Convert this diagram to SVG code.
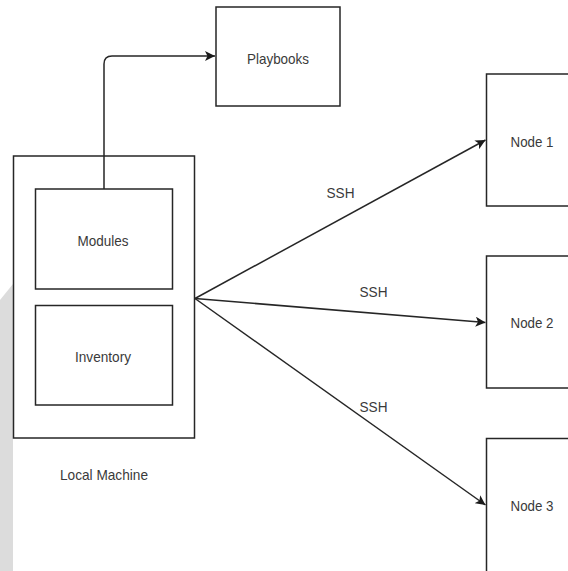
<svg xmlns="http://www.w3.org/2000/svg" width="568" height="571" viewBox="0 0 568 571">
<defs>
<style>
.box{fill:#ffffff;stroke:#262626;stroke-width:1.5}
.lbl{font-family:"Liberation Sans",Arial,sans-serif;font-size:15px;fill:#3a3a3a;text-anchor:middle;dominant-baseline:central}
.edge{fill:none;stroke:#262626;stroke-width:1.5}
</style>
<marker id="arr" viewBox="0 0 10 10" refX="10" refY="5" markerWidth="10" markerHeight="10" markerUnits="userSpaceOnUse" orient="auto">
<path d="M0,0 L10,5 L0,10 L2.5,5 Z" fill="#1a1a1a"/>
</marker>
</defs>
<rect width="568" height="571" fill="#ffffff"/>
<g id="watermark">
<polygon points="0,300 13,284 13,571 0,571" fill="#dcdcdc"/>
</g>
<g id="local-machine">
<rect class="box" x="13.5" y="156" width="181" height="282"/>
<text class="lbl" x="104" y="474" textLength="88" lengthAdjust="spacingAndGlyphs">Local Machine</text>
</g>
<g id="modules">
<rect class="box" x="35.5" y="189" width="137" height="100"/>
<text class="lbl" x="103" y="240" textLength="51" lengthAdjust="spacingAndGlyphs">Modules</text>
</g>
<g id="inventory">
<rect class="box" x="35.5" y="305.5" width="137" height="99.5"/>
<text class="lbl" x="103" y="356" textLength="56" lengthAdjust="spacingAndGlyphs">Inventory</text>
</g>
<g id="playbooks">
<rect class="box" x="216" y="7" width="124" height="99"/>
<text class="lbl" x="278" y="58" textLength="62" lengthAdjust="spacingAndGlyphs">Playbooks</text>
</g>
<g id="node1">
<rect class="box" x="486.5" y="74" width="90" height="132"/>
<text class="lbl" x="532" y="141" textLength="43" lengthAdjust="spacingAndGlyphs">Node 1</text>
</g>
<g id="node2">
<rect class="box" x="486.5" y="256" width="90" height="132"/>
<text class="lbl" x="532" y="322.5" textLength="43" lengthAdjust="spacingAndGlyphs">Node 2</text>
</g>
<g id="node3">
<rect class="box" x="486.5" y="438.5" width="90" height="140"/>
<text class="lbl" x="532" y="505" textLength="43" lengthAdjust="spacingAndGlyphs">Node 3</text>
</g>
<g id="connectors">
<path class="edge" d="M104,189 V64 Q104,56 112,56 H215" marker-end="url(#arr)"/>
<path class="edge" d="M195,298.5 L485.5,140" marker-end="url(#arr)"/>
<path class="edge" d="M195,298.5 L485.5,322.5" marker-end="url(#arr)"/>
<path class="edge" d="M195,298.5 L485.5,505" marker-end="url(#arr)"/>
<text class="lbl" x="340.5" y="192" textLength="28" lengthAdjust="spacingAndGlyphs">SSH</text>
<text class="lbl" x="373.5" y="291" textLength="28" lengthAdjust="spacingAndGlyphs">SSH</text>
<text class="lbl" x="373.5" y="406" textLength="28" lengthAdjust="spacingAndGlyphs">SSH</text>
</g>
</svg>
